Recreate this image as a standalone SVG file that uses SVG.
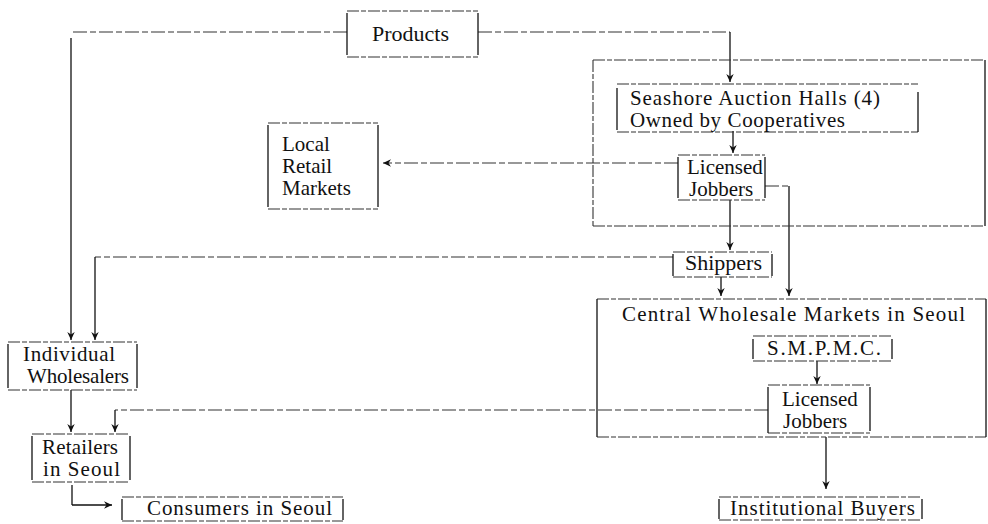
<svg xmlns="http://www.w3.org/2000/svg" width="988" height="524" viewBox="0 0 988 524">
<defs>
<style>
.bg{fill:#fff}
.bh{stroke:#333;stroke-width:1.1;stroke-dasharray:12 2 5 2;fill:none}
.bv{stroke:#111;stroke-width:1.3;fill:none}
.ch{stroke:#333;stroke-width:1.1;stroke-dasharray:14 3 6 3;fill:none}
.cv{stroke:#111;stroke-width:1.3;fill:none}
.t{font-family:"Liberation Serif","Times New Roman",serif;font-size:21px;fill:#111}
</style>
<marker id="ah" markerUnits="userSpaceOnUse" markerWidth="9" markerHeight="9" refX="8" refY="4.5" orient="auto">
<path d="M0,0.8 L8,4.5 L0,8.2 L2.5,4.5 Z" fill="#111"/>
</marker>
</defs>
<rect class="bg" x="0" y="0" width="988" height="524"/>

<g id="connectors">
<!-- Products -> Individual Wholesalers -->
<line class="ch" x1="347" y1="32" x2="72" y2="32"/>
<line class="cv" x1="71" y1="38" x2="71" y2="340" marker-end="url(#ah)"/>
<!-- Products -> Seashore -->
<line class="ch" x1="478" y1="32" x2="730" y2="32"/>
<line class="cv" x1="730" y1="32" x2="730" y2="82" marker-end="url(#ah)"/>
<!-- Seashore -> Licensed Jobbers -->
<line class="cv" x1="733" y1="131" x2="733" y2="153" marker-end="url(#ah)"/>
<!-- Licensed Jobbers -> Local Retail Markets -->
<line class="ch" x1="678" y1="163" x2="383" y2="163" marker-end="url(#ah)"/>
<!-- Licensed Jobbers -> Central -->
<line class="ch" x1="765" y1="186" x2="789" y2="186"/>
<line class="cv" x1="789" y1="186" x2="789" y2="296" marker-end="url(#ah)"/>
<!-- Licensed Jobbers -> Shippers -->
<line class="cv" x1="730" y1="200" x2="730" y2="250" marker-end="url(#ah)"/>
<!-- Shippers -> Individual Wholesalers -->
<line class="ch" x1="673" y1="257" x2="95" y2="257"/>
<line class="cv" x1="95" y1="257" x2="95" y2="340" marker-end="url(#ah)"/>
<!-- Shippers -> Central -->
<line class="cv" x1="721" y1="277" x2="721" y2="296" marker-end="url(#ah)"/>
<!-- SMPMC -> Licensed Jobbers -->
<line class="cv" x1="817" y1="361" x2="817" y2="384" marker-end="url(#ah)"/>
<!-- Licensed Jobbers (Seoul) -> Retailers -->
<line class="ch" x1="768" y1="410" x2="115" y2="410"/>
<line class="cv" x1="115" y1="410" x2="115" y2="432" marker-end="url(#ah)"/>
<!-- Central -> Institutional Buyers -->
<line class="cv" x1="826" y1="437" x2="826" y2="489" marker-end="url(#ah)"/>
<!-- Individual Wholesalers -> Retailers -->
<line class="cv" x1="71" y1="390" x2="71" y2="432" marker-end="url(#ah)"/>
<!-- Retailers -> Consumers -->
<line class="cv" x1="72" y1="485" x2="72" y2="505"/>
<line class="cv" x1="72" y1="505" x2="112" y2="505" marker-end="url(#ah)"/>
</g>

<g id="products">
<line class="bh" x1="347" y1="11" x2="478" y2="11"/>
<line class="bh" x1="347" y1="57" x2="478" y2="57"/>
<line class="bv" x1="347" y1="13" x2="347" y2="55"/>
<line class="bv" x1="478" y1="13" x2="478" y2="55"/>
<text class="t" x="372" y="41" textLength="77" lengthAdjust="spacingAndGlyphs">Products</text>
</g>

<g id="seashore-region">
<line class="bh" x1="593" y1="60" x2="985" y2="60"/>
<line class="bh" x1="593" y1="226" x2="985" y2="226"/>
<line class="bh" x1="593" y1="60" x2="593" y2="226"/>
<line class="bv" x1="985" y1="60" x2="985" y2="226"/>
</g>

<g id="seashore-auction-halls">
<line class="bh" x1="617" y1="84" x2="918" y2="84"/>
<line class="bh" x1="617" y1="132" x2="918" y2="132"/>
<line class="bv" x1="617" y1="88" x2="617" y2="130"/>
<line class="bv" x1="918" y1="92" x2="918" y2="132"/>
<text class="t" x="630" y="105" textLength="250" lengthAdjust="spacing">Seashore Auction Halls (4)</text>
<text class="t" x="630" y="127" textLength="215" lengthAdjust="spacing">Owned by Cooperatives</text>
</g>

<g id="licensed-jobbers-1">
<line class="bh" x1="678" y1="155" x2="765" y2="155"/>
<line class="bh" x1="678" y1="200" x2="765" y2="200"/>
<line class="bv" x1="678" y1="157" x2="678" y2="198"/>
<line class="bv" x1="765" y1="157" x2="765" y2="198"/>
<text class="t" x="687" y="174">Licensed</text>
<text class="t" x="689" y="196">Jobbers</text>
</g>

<g id="local-retail-markets">
<line class="bh" x1="268" y1="123" x2="378" y2="123"/>
<line class="bh" x1="268" y1="209" x2="378" y2="209"/>
<line class="bv" x1="268" y1="125" x2="268" y2="207"/>
<line class="bv" x1="378" y1="125" x2="378" y2="207"/>
<text class="t" x="282" y="151">Local</text>
<text class="t" x="282" y="173">Retail</text>
<text class="t" x="282" y="195">Markets</text>
</g>

<g id="shippers">
<line class="bh" x1="673" y1="252" x2="772" y2="252"/>
<line class="bh" x1="673" y1="277" x2="772" y2="277"/>
<line class="bv" x1="673" y1="254" x2="673" y2="276"/>
<line class="bv" x1="772" y1="254" x2="772" y2="276"/>
<text class="t" x="685" y="270" textLength="77" lengthAdjust="spacingAndGlyphs">Shippers</text>
</g>

<g id="central-wholesale-markets">
<line class="bh" x1="597" y1="299" x2="986" y2="299"/>
<line class="bh" x1="597" y1="437" x2="986" y2="437"/>
<line class="bv" x1="597" y1="299" x2="597" y2="437"/>
<line class="bv" x1="986" y1="299" x2="986" y2="437"/>
<text class="t" x="622" y="321" textLength="343" lengthAdjust="spacing">Central Wholesale Markets in Seoul</text>
</g>

<g id="smpmc">
<line class="bh" x1="753" y1="336" x2="892" y2="336"/>
<line class="bh" x1="753" y1="361" x2="892" y2="361"/>
<line class="bv" x1="753" y1="339" x2="753" y2="359"/>
<line class="bv" x1="892" y1="339" x2="892" y2="359"/>
<text class="t" x="767" y="355" textLength="114" lengthAdjust="spacing">S.M.P.M.C.</text>
</g>

<g id="licensed-jobbers-2">
<line class="bh" x1="768" y1="385" x2="870" y2="385"/>
<line class="bh" x1="768" y1="433" x2="870" y2="433"/>
<line class="bv" x1="768" y1="387" x2="768" y2="433"/>
<line class="bv" x1="870" y1="387" x2="870" y2="431"/>
<text class="t" x="782" y="406">Licensed</text>
<text class="t" x="783" y="428">Jobbers</text>
</g>

<g id="institutional-buyers">
<line class="bh" x1="719" y1="497" x2="922" y2="497"/>
<line class="bh" x1="719" y1="520" x2="922" y2="520"/>
<line class="bv" x1="719" y1="499" x2="719" y2="519"/>
<line class="bv" x1="922" y1="499" x2="922" y2="519"/>
<text class="t" x="730" y="515" textLength="185" lengthAdjust="spacing">Institutional Buyers</text>
</g>

<g id="individual-wholesalers">
<line class="bh" x1="8" y1="342" x2="137" y2="342"/>
<line class="bh" x1="8" y1="390" x2="137" y2="390"/>
<line class="bv" x1="8" y1="344" x2="8" y2="388"/>
<line class="bv" x1="137" y1="344" x2="137" y2="388"/>
<text class="t" x="23" y="361" textLength="92" lengthAdjust="spacing">Individual</text>
<text class="t" x="27" y="383" textLength="102" lengthAdjust="spacing">Wholesalers</text>
</g>

<g id="retailers-in-seoul">
<line class="bh" x1="32" y1="434" x2="130" y2="434"/>
<line class="bh" x1="32" y1="482" x2="130" y2="482"/>
<line class="bv" x1="32" y1="436" x2="32" y2="480"/>
<line class="bv" x1="130" y1="436" x2="130" y2="480"/>
<text class="t" x="42" y="454" textLength="76" lengthAdjust="spacing">Retailers</text>
<text class="t" x="43" y="476" textLength="77" lengthAdjust="spacing">in Seoul</text>
</g>

<g id="consumers-in-seoul">
<line class="bh" x1="122" y1="497" x2="343" y2="497"/>
<line class="bh" x1="122" y1="521" x2="343" y2="521"/>
<line class="bv" x1="122" y1="499" x2="122" y2="520"/>
<line class="bv" x1="343" y1="499" x2="343" y2="520"/>
<text class="t" x="147" y="515" textLength="185" lengthAdjust="spacing">Consumers in Seoul</text>
</g>
</svg>
